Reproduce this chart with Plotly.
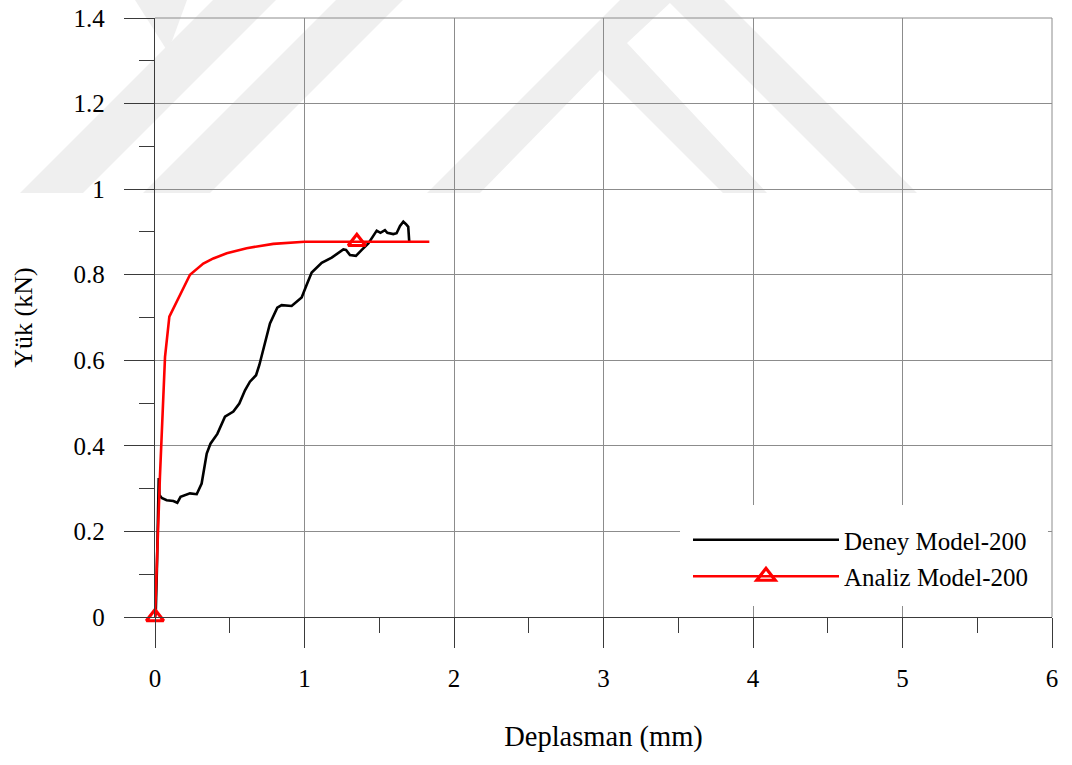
import plotly.graph_objects as go

# ---------------- data ----------------
deney_x = [0.0, 0.005, 0.012, 0.018, 0.022, 0.025, 0.030, 0.045, 0.078, 0.123, 0.149, 0.171,
           0.234, 0.279, 0.312, 0.346, 0.371, 0.417, 0.468, 0.524, 0.564, 0.602, 0.635,
           0.676, 0.698, 0.736, 0.769, 0.818, 0.847, 0.914, 0.947, 0.981, 1.014, 1.048,
           1.115, 1.182, 1.260, 1.278, 1.304, 1.344, 1.383, 1.427, 1.483, 1.508, 1.538,
           1.554, 1.594, 1.616, 1.639, 1.661, 1.679, 1.694, 1.701]
deney_y = [0.0, 0.01, 0.10, 0.19, 0.24, 0.325, 0.285, 0.278, 0.273, 0.271, 0.267, 0.281,
           0.289, 0.287, 0.312, 0.382, 0.405, 0.428, 0.468, 0.480, 0.499, 0.530, 0.550,
           0.565, 0.589, 0.640, 0.686, 0.723, 0.729, 0.727, 0.737, 0.747, 0.776, 0.805,
           0.828, 0.840, 0.859, 0.858, 0.846, 0.844, 0.858, 0.873, 0.903, 0.898, 0.904,
           0.898, 0.895, 0.897, 0.914, 0.924, 0.918, 0.912, 0.875]

analiz_x = [0.0, 0.033, 0.067, 0.096, 0.234, 0.323, 0.39, 0.48, 0.613, 0.791, 1.0, 1.35, 1.835]
analiz_y = [0.0, 0.328, 0.608, 0.702, 0.800, 0.826, 0.838, 0.850, 0.862, 0.872, 0.877, 0.877, 0.877]
analiz_marker_idx = [0, 11]

x_ticks = [0, 1, 2, 3, 4, 5, 6]
y_ticks = [0, 0.2, 0.4, 0.6, 0.8, 1.0, 1.2, 1.4]
y_tick_labels = ["0", "0.2", "0.4", "0.6", "0.8", "1", "1.2", "1.4"]

series_names = ["Deney Model-200", "Analiz Model-200"]

FONT = "Liberation Serif, Times New Roman, serif"
GRID = "#8c8c8c"
AXIS = "#3a3a3a"

# ---------------- geometry ----------------
W, H = 1072, 765
PL, PR, PT, PB = 155, 1052, 18, 617          # plot area in window pixels
L, R, T, B = PL, W - PR, PT, H - PB

fig = go.Figure()

fig.add_trace(go.Scatter(x=deney_x, y=deney_y, mode="lines",
                         line=dict(color="black", width=2.6),
                         showlegend=False, hoverinfo="skip"))
fig.add_trace(go.Scatter(x=analiz_x, y=analiz_y, mode="lines",
                         line=dict(color="#ff0000", width=2.6),
                         showlegend=False, hoverinfo="skip"))
fig.add_trace(go.Scatter(x=[analiz_x[i] for i in analiz_marker_idx],
                         y=[analiz_y[i] for i in analiz_marker_idx],
                         mode="markers", cliponaxis=False,
                         marker=dict(symbol="triangle-up-open", size=15, color="#ff0000",
                                     line=dict(color="#ff0000", width=3.2)),
                         showlegend=False, hoverinfo="skip"))

# legend entries
fig.add_trace(go.Scatter(x=[None], y=[None], mode="lines", name=series_names[0],
                         line=dict(color="black", width=2.6), legendgroup="a"))
fig.add_trace(go.Scatter(x=[None], y=[None], mode="lines+markers", name=series_names[1],
                         line=dict(color="#ff0000", width=2.6), legendgroup="b",
                         marker=dict(symbol="triangle-up-open", size=16, color="#ff0000",
                                     line=dict(color="#ff0000", width=3.2))))

# ---------------- watermark, frame & legend box (decoration) ----------------
PW, PH = PR - PL, PB - PT


def to_frac(pts):
    return [((px - PL) / PW, (PB - py) / PH) for px, py in pts]


def poly_path(pts):
    p = to_frac(pts)
    return "M " + " L ".join(f"{x:.4f},{y:.4f}" for x, y in p) + " Z"


WM = "#efefef"
gray_polys = [
    [(20, 193), (83, 193), (276, 0), (213, 0)],
    [(143, 193), (210, 193), (403, 0), (336, 0)],
    [(135, 0), (187, 0), (168, 52)],
    [(427, 193), (672, -52), (917, 193)],
]
white_polys = [
    [(480, 193), (600, 70), (723, 193)],
    [(627, 43), (670, 3), (860, 193), (767, 193)],
]
shapes = []
for pts in gray_polys:
    shapes.append(dict(type="path", xref="paper", yref="paper", path=poly_path(pts),
                       fillcolor=WM, line=dict(width=0), layer="below"))
for pts in white_polys:
    shapes.append(dict(type="path", xref="paper", yref="paper", path=poly_path(pts),
                       fillcolor="white", line=dict(width=0), layer="below"))
# white legend background box (covers the gridlines behind the legend)
shapes.append(dict(type="path", xref="paper", yref="paper",
                   path=poly_path([(680, 505), (1048, 505), (1048, 606), (680, 606)]),
                   fillcolor="white", line=dict(width=0), layer="above"))
# top and right frame lines (same style as the gridlines)
shapes.append(dict(type="line", xref="paper", yref="paper", x0=0, x1=1, y0=1, y1=1,
                   line=dict(color=GRID, width=1), layer="below"))
shapes.append(dict(type="line", xref="paper", yref="paper", x0=1, x1=1, y0=0, y1=1,
                   line=dict(color=GRID, width=1), layer="below"))

fig.update_layout(
    width=W, height=H,
    margin=dict(l=L, r=R, t=T, b=B),
    paper_bgcolor="white",
    plot_bgcolor="rgba(0,0,0,0)",
    font=dict(family=FONT, size=25, color="black"),
    shapes=shapes,
    showlegend=True,
    legend=dict(x=(688 - PL) / PW, y=(PB - 517) / PH, xanchor="left", yanchor="top",
                bgcolor="rgba(0,0,0,0)", borderwidth=0,
                font=dict(family=FONT, size=25, color="black"),
                itemwidth=146, traceorder="grouped", tracegroupgap=1,
                itemclick=False, itemdoubleclick=False),
    xaxis=dict(range=[0, 6], tickvals=x_ticks, showgrid=True, gridcolor=GRID, gridwidth=1,
               showline=True, linecolor=AXIS, linewidth=1.3, zeroline=False,
               ticks="outside", ticklen=30, tickcolor=AXIS, tickwidth=1.2,
               ticklabelstandoff=9, ticklabeloverflow="allow",
               tickfont=dict(family=FONT, size=25, color="black"),
               minor=dict(tickvals=[0.5, 1.5, 2.5, 3.5, 4.5, 5.5], ticks="outside",
                          ticklen=15, tickcolor=AXIS, tickwidth=1.2, showgrid=False),
               title=dict(text="Deplasman (mm)", standoff=34,
                          font=dict(family=FONT, size=28.5, color="black")),
               automargin=False),
    yaxis=dict(range=[0, 1.4], tickvals=y_ticks, ticktext=y_tick_labels,
               showgrid=True, gridcolor=GRID, gridwidth=1,
               showline=True, linecolor=AXIS, linewidth=1.3, zeroline=False,
               ticks="outside", ticklen=30, tickcolor=AXIS, tickwidth=1.2,
               ticklabelstandoff=14, ticklabeloverflow="allow",
               tickfont=dict(family=FONT, size=25, color="black"),
               minor=dict(tickvals=[0.1, 0.3, 0.5, 0.7, 0.9, 1.1, 1.3], ticks="outside",
                          ticklen=15, tickcolor=AXIS, tickwidth=1.2, showgrid=False),
               title=dict(text="Yük (kN)", standoff=33,
                          font=dict(family=FONT, size=26, color="black")),
               automargin=False),
)

# remove the default 8px page margin so the figure fills the window exactly
fig.write_html("out.html",
               config={"displayModeBar": False},
               post_script="document.body.style.margin='0';document.body.style.padding='0';")
